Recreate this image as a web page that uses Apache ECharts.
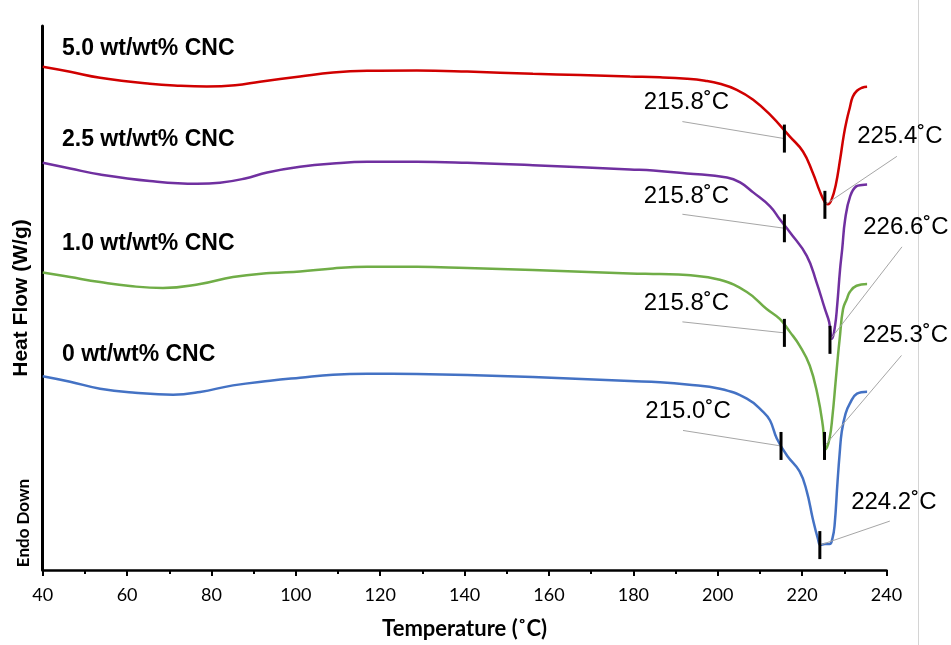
<!DOCTYPE html>
<html>
<head>
<meta charset="utf-8">
<title>DSC thermograms</title>
<script src="https://cdn.jsdelivr.net/npm/echarts@6/dist/echarts.min.js"></script>
<style>
  html, body { margin: 0; padding: 0; background: #ffffff; }
  #chart { width: 951px; height: 645px; }
</style>
</head>
<body>
<div id="chart"></div>
<script>
// DSC heating curves (heat flow, W/g, curves offset vertically), temperature in °C

const xTicks = [40, 60, 80, 100, 120, 140, 160, 180, 200, 220, 240];

const sampleNames = ['0 wt/wt% CNC', '1.0 wt/wt% CNC', '2.5 wt/wt% CNC', '5.0 wt/wt% CNC'];

const temp0 = [40, 46.5, 53.6, 61.9, 70.9, 77.3, 85.1, 93.9, 101.0, 108.8, 116.9, 128.7, 140.6, 156.2, 179.2, 186.3, 192.7, 200.5, 206.9, 210.7, 212.4, 214.0, 216.4, 219.4, 221.1, 222.5, 223.7, 224.4, 225.4, 226.5, 227.2, 227.7, 228.4, 228.9, 229.4, 230.3, 231.3, 233.0, 235.4];
const flow0 = [1.945, 1.89, 1.82, 1.78, 1.76, 1.787, 1.853, 1.90, 1.93, 1.96, 1.97, 1.967, 1.957, 1.937, 1.897, 1.885, 1.863, 1.82, 1.72, 1.59, 1.50, 1.32, 1.15, 0.99, 0.79, 0.52, 0.32, 0.25, 0.26, 0.26, 0.32, 0.45, 0.89, 1.17, 1.39, 1.57, 1.67, 1.77, 1.79];

const temp1 = [40, 46.5, 53.6, 60.7, 68.5, 77.3, 85.1, 93.9, 101.0, 108.8, 116.9, 128.7, 140.6, 156.2, 179.2, 186.3, 192.7, 200.5, 206.9, 211.6, 214.7, 217.1, 219.4, 221.8, 223.7, 224.9, 225.5, 226.5, 227.2, 227.9, 228.5, 228.9, 229.7, 230.6, 231.3, 232.9, 235.4];
const flow1 = [2.987, 2.94, 2.89, 2.85, 2.83, 2.87, 2.94, 2.98, 2.997, 3.027, 3.043, 3.043, 3.03, 3.01, 2.977, 2.97, 2.96, 2.913, 2.79, 2.62, 2.52, 2.39, 2.253, 2.053, 1.75, 1.45, 1.21, 1.32, 1.55, 1.87, 2.153, 2.32, 2.62, 2.72, 2.79, 2.853, 2.87];

const temp25 = [40, 46.5, 53.6, 65.4, 76.6, 82.0, 88.0, 93.2, 101.0, 108.8, 116.9, 128.7, 140.6, 156.2, 179.2, 184.7, 192.7, 202.2, 205.3, 208.4, 212.4, 214.7, 217.1, 221.1, 223.4, 225.4, 226.4, 227.1, 227.8, 228.3, 229.0, 229.5, 230.2, 231.4, 232.9, 234.2, 235.4];
const flow25 = [4.087, 4.03, 3.97, 3.905, 3.877, 3.887, 3.93, 3.99, 4.047, 4.08, 4.097, 4.097, 4.087, 4.063, 4.02, 4.01, 3.98, 3.94, 3.89, 3.79, 3.65, 3.52, 3.39, 3.153, 2.89, 2.62, 2.49, 2.32, 2.45, 2.65, 3.02, 3.22, 3.52, 3.753, 3.853, 3.865, 3.87];

const temp5 = [40, 46.5, 53.6, 65.4, 72.6, 78.9, 85.6, 91.5, 101.0, 108.8, 116.9, 128.7, 140.6, 156.2, 167.4, 179.2, 186.3, 192.7, 197.0, 200.5, 204.5, 208.4, 212.4, 217.1, 220.2, 222.5, 224.2, 225.4, 226.1, 227.0, 228.0, 229.0, 229.9, 230.6, 231.3, 232.0, 233.0, 234.2, 235.4];
const flow5 = [5.05, 5.00, 4.94, 4.88, 4.86, 4.853, 4.865, 4.90, 4.953, 4.993, 5.01, 5.013, 5.003, 4.98, 4.967, 4.953, 4.945, 4.93, 4.91, 4.88, 4.82, 4.72, 4.57, 4.35, 4.20, 3.99, 3.80, 3.69, 3.67, 3.72, 3.87, 4.12, 4.37, 4.52, 4.64, 4.75, 4.81, 4.84, 4.85];

// Onset and peak temperatures (°C) with the heat flow where each is marked
const onsetTemps = [215.0, 215.8, 215.8, 215.8];
const onsetFlow  = [1.245, 2.38, 3.43, 4.33];
const peakTemps  = [224.2, 225.3, 226.6, 225.4];
const peakFlow   = [0.25, 1.245, 2.31, 3.665];

// Layout: callout offsets in px from each marker (leader start, label centre)
const onsetOffsets = [
  { lx: -98, ly: -15.5, tx: -93, ty: -34.5 },
  { lx: -102, ly: -11, tx: -98, ty: -29 },
  { lx: -102, ly: -14, tx: -98, ty: -32 },
  { lx: -102, ly: -17, tx: -98, ty: -36 }
];
const peakOffsets = [
  { lx: 70, ly: -24, tx: 74, ty: -43 },
  { lx: 77, ly: -90.5, tx: 81, ty: -110.5 },
  { lx: 72, ly: -93, tx: 76, ty: -112 },
  { lx: 72, ly: -48.5, tx: 75, ty: -68.5 }
];
// Layout: sample name label positions (px)
const nameLabelPos = [[62, 355], [62, 244], [62, 140], [62, 49]];

const colors = ['#4472C4', '#70AD47', '#7030A0', '#D00000'];
const temps = [temp0, temp1, temp25, temp5];
const flows = [flow0, flow1, flow25, flow5];

const fmt = t => t.toFixed(1) + '\u02DAC';

const callouts = [];
for (let i = 0; i < 4; i++) {
  callouts.push({ value: [onsetTemps[i], onsetFlow[i]], text: fmt(onsetTemps[i]), off: onsetOffsets[i] });
  callouts.push({ value: [peakTemps[i], peakFlow[i]], text: fmt(peakTemps[i]), off: peakOffsets[i] });
}

const curveSeries = temps.map((t, i) => ({
  name: sampleNames[i],
  type: 'line',
  data: t.map((x, k) => [x, flows[i][k]]),
  showSymbol: false,
  smooth: 0.45,
  lineStyle: { color: colors[i], width: 2.5 },
  itemStyle: { color: colors[i] },
  z: 3
}));

const calloutSeries = {
  type: 'custom',
  clip: false,
  z: 5,
  data: callouts.map(c => c.value),
  renderItem: function (params, api) {
    const c = callouts[params.dataIndex];
    const p = api.coord([api.value(0), api.value(1)]);
    return {
      type: 'group',
      children: [
        { type: 'line', shape: { x1: p[0] + c.off.lx, y1: p[1] + c.off.ly, x2: p[0], y2: p[1] },
          style: { stroke: '#a6a6a6', lineWidth: 1 } },
        { type: 'rect', shape: { x: p[0] - 1.5, y: p[1] - 14, width: 3, height: 28 },
          style: { fill: '#000000' } },
        { type: 'text', x: p[0] + c.off.tx, y: p[1] + c.off.ty,
          style: { text: c.text, fill: '#000000', font: '24px "Liberation Sans", Arial, sans-serif',
                   align: 'center', verticalAlign: 'middle' } }
      ]
    };
  }
};

const chart = echarts.init(document.getElementById('chart'), null, { renderer: 'canvas' });

const graphics = sampleNames.map((n, i) => ({
  type: 'text',
  x: nameLabelPos[i][0],
  y: nameLabelPos[i][1],
  style: { text: n, fill: '#000000', font: 'bold 23px "Liberation Sans", Arial, sans-serif',
           align: 'left', verticalAlign: 'middle' }
}));
graphics.push({
  type: 'text', x: 24, y: 523, rotation: Math.PI / 2,
  style: { text: 'Endo Down', fill: '#000000', font: 'bold 17px Lato, sans-serif',
           align: 'center', verticalAlign: 'middle' }
});
graphics.push({
  type: 'line', shape: { x1: 918.5, y1: 0, x2: 918.5, y2: 645 },
  style: { stroke: '#d4d4d4', lineWidth: 1 }
});

chart.setOption({
  animation: false,
  backgroundColor: '#ffffff',
  grid: { left: 42.7, right: 64.5, top: 26, bottom: 73 },
  xAxis: {
    type: 'value',
    min: xTicks[0],
    max: xTicks[xTicks.length - 1],
    interval: xTicks[1] - xTicks[0],
    name: 'Temperature (\u02DAC)',
    nameLocation: 'middle',
    nameGap: 48,
    nameTextStyle: { color: '#000000', fontFamily: 'Lato', fontWeight: 'bold', fontSize: 22 },
    axisLine: { show: true, onZero: false, lineStyle: { color: '#000000', width: 2.5 } },
    axisTick: { show: true, length: 6, lineStyle: { color: '#000000', width: 2 } },
    minorTick: { show: true, splitNumber: 2, length: 4, lineStyle: { color: '#000000', width: 2 } },
    axisLabel: { color: '#000000', fontFamily: 'Lato', fontSize: 18, margin: 16 },
    splitLine: { show: false },
    minorSplitLine: { show: false }
  },
  yAxis: {
    type: 'value',
    min: 0,
    max: 5.46,
    name: 'Heat Flow (W/g)',
    nameLocation: 'middle',
    nameGap: 11,
    nameTextStyle: { color: '#000000', fontFamily: '"Liberation Sans", Arial', fontWeight: 'bold', fontSize: 21 },
    axisLine: { show: true, onZero: false, lineStyle: { color: '#000000', width: 3 } },
    axisTick: { show: false },
    axisLabel: { show: false },
    splitLine: { show: false }
  },
  graphic: graphics,
  series: curveSeries.concat([calloutSeries])
});
</script>
</body>
</html>
